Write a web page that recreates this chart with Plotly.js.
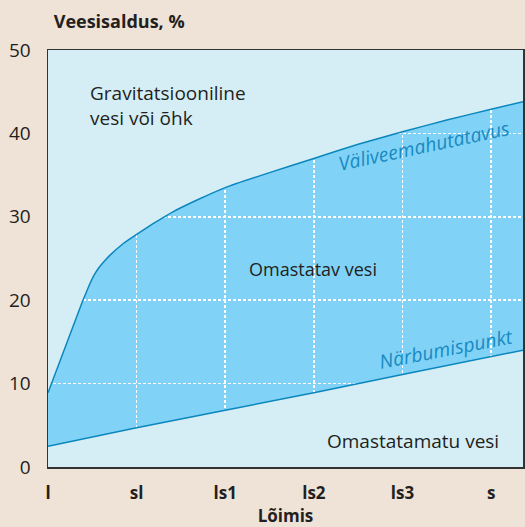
<!DOCTYPE html>
<html>
<head>
<meta charset="utf-8">
<script src="https://cdn.plot.ly/plotly-3.0.1.min.js"></script>
<style>
  html, body { margin: 0; padding: 0; background: #efe2d7; }
  #chart { width: 525px; height: 527px; }
</style>
</head>
<body>
<div id="chart"></div>
<script>
// Soil texture categories (x axis)
const textures = ['l', 'sl', 'ls1', 'ls2', 'ls3', 's'];
const textureIdx = [0, 1, 2, 3, 4, 5];

// Field capacity (Väliveemahutatavus), % — positions along the texture axis
const fcX = [0, 0.38, 0.43, 0.474, 0.52, 0.568, 0.63, 0.70, 0.85, 1.0, 1.19, 1.41, 1.7, 2.0, 2.5, 3.0, 3.5, 4.0, 4.5, 5.0, 5.36];
const fcY = [8.9, 19.6, 20.9, 22.0, 23.0, 23.8, 24.6, 25.4, 26.8, 27.9, 29.2, 30.6, 32.1, 33.5, 35.3, 37.0, 38.7, 40.2, 41.6, 42.9, 43.8];

// Wilting point (Närbumispunkt), %
const wpX = [0, 1, 2, 3, 4, 5, 5.36];
const wpY = [2.5, 4.7, 6.8, 8.9, 11.1, 13.3, 14.0];

const xMax = 5.36;
const yMax = 50;
const yTicks = [0, 10, 20, 30, 40, 50];

const cPaper = '#efe2d7';
const cLight = '#d5eef5';
const cBand = '#80d3f7';
const cLine = '#0b86bd';
const cLabel = '#1a8ac2';
const cText = '#231f20';
const font = 'Open Sans, Noto Sans, sans-serif';

const traces = [
  { x: wpX, y: wpY, mode: 'lines', fill: 'tozeroy', fillcolor: cLight,
    line: { color: cLine, width: 1.5 }, hoverinfo: 'skip' },
  { x: [0, xMax], y: [yMax, yMax], mode: 'lines', line: { width: 0, color: cLight }, hoverinfo: 'skip' },
  { x: fcX, y: fcY, mode: 'lines', fill: 'tonexty', fillcolor: cLight,
    line: { color: cLine, width: 1.5, shape: 'spline', smoothing: 0.4 }, hoverinfo: 'skip' }
];

const layout = {
  width: 525, height: 527,
  paper_bgcolor: cPaper,
  plot_bgcolor: cBand,
  showlegend: false,
  margin: { l: 48, r: 2, t: 50, b: 60 },
  font: { family: font, color: cText, size: 18 },
  title: { text: '<b>Veesisaldus, %</b>', x: 0.012, xanchor: 'left', xref: 'paper', y: 0.958, yref: 'container', yanchor: 'middle',
           font: { family: font, size: 18, color: cText } },
  xaxis: {
    range: [0, xMax], tickvals: textureIdx, ticktext: textures.map(t => '<b>' + t + '</b>'),
    showgrid: true, gridcolor: '#ffffff', gridwidth: 1.5, griddash: '3px,2px',
    zeroline: false, showline: true, linecolor: '#333333', linewidth: 1.5, mirror: true,
    ticks: '', ticklabelstandoff: 10,
    tickfont: { family: font, size: 17, color: cText },
    title: { text: '<b>Lõimis</b>', standoff: 5, font: { family: font, size: 17, color: cText } }
  },
  yaxis: {
    range: [0, yMax], tickvals: yTicks,
    showgrid: true, gridcolor: '#ffffff', gridwidth: 1.5, griddash: '3px,2px',
    zeroline: false, showline: true, linecolor: '#333333', linewidth: 1.5, mirror: true,
    ticks: '', ticklabelstandoff: 12,
    tickfont: { family: font, size: 19, color: cText }
  },
  annotations: [
    { x: 0.45, y: 43.4, xref: 'x', yref: 'y', text: 'Gravitatsiooniline<br>vesi või õhk', showarrow: false,
      xanchor: 'left', yanchor: 'middle', align: 'left', font: { size: 19, color: cText, family: font } },
    { x: 2.99, y: 23.7, xref: 'x', yref: 'y', text: 'Omastatav vesi', showarrow: false,
      xanchor: 'center', yanchor: 'middle', font: { size: 18, color: cText, family: font } },
    { x: 4.12, y: 3.1, xref: 'x', yref: 'y', text: 'Omastatamatu vesi', showarrow: false,
      xanchor: 'center', yanchor: 'middle', font: { size: 19, color: cText, family: font } },
    { x: 4.24, y: 38.5, xref: 'x', yref: 'y', text: '<i>Väliveemahutatavus</i>', showarrow: false,
      textangle: -12, xanchor: 'center', yanchor: 'middle', font: { size: 19.5, color: cLabel, family: font } },
    { x: 4.5, y: 14.2, xref: 'x', yref: 'y', text: '<i>Närbumispunkt</i>', showarrow: false,
      textangle: -11, xanchor: 'center', yanchor: 'middle', font: { size: 19.5, color: cLabel, family: font } }
  ]
};

Plotly.newPlot('chart', traces, layout, { displayModeBar: false, staticPlot: true });
</script>
</body>
</html>
